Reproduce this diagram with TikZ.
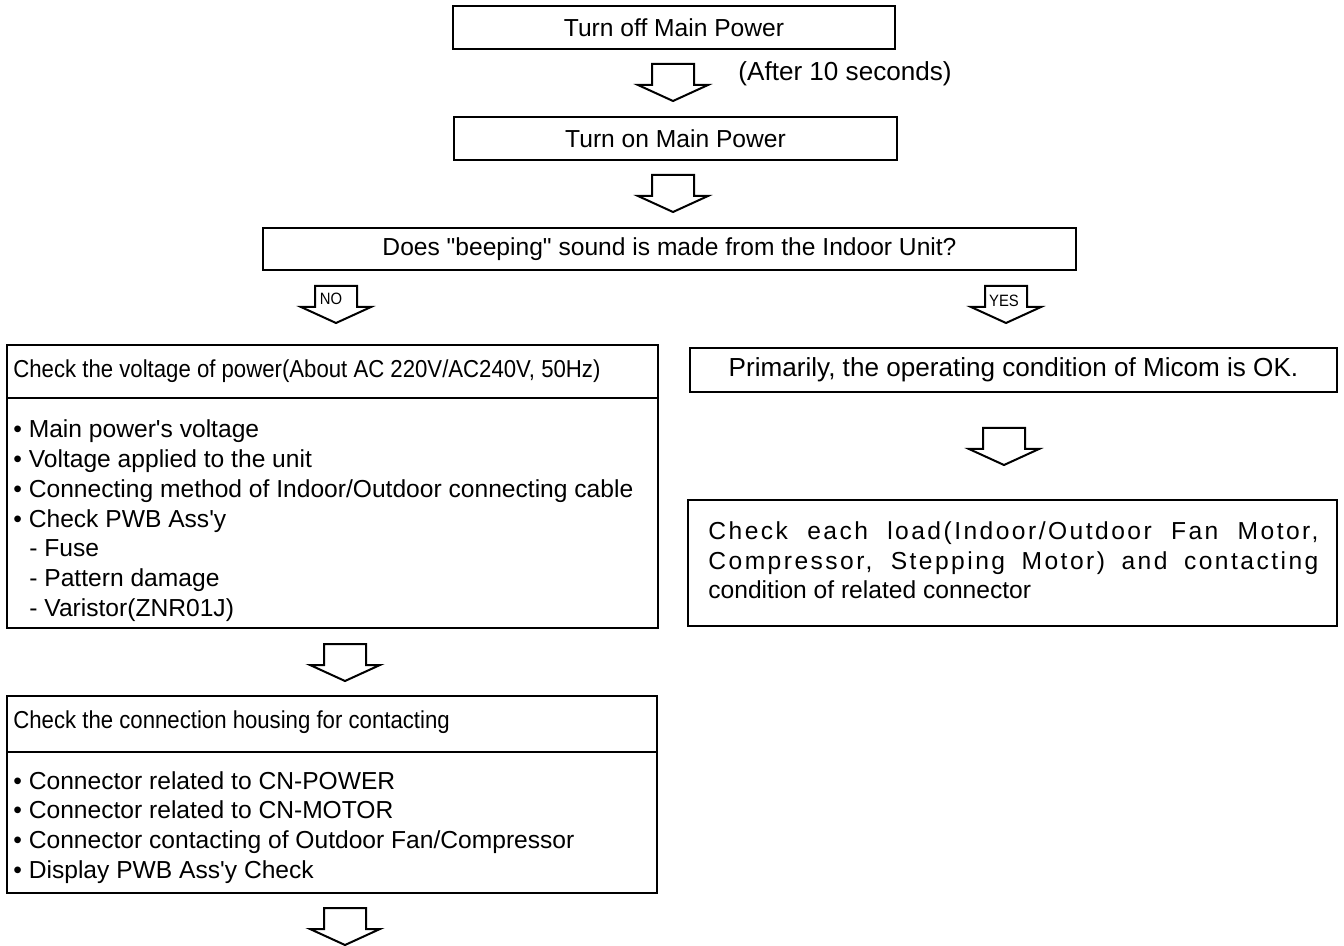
\documentclass[tikz,border=0pt]{standalone}
\usepackage{fontspec}
\setmainfont{Liberation Sans}
\newfontfamily\narrowfont[FakeStretch=0.905]{Liberation Sans}

\tikzset{
  box/.style={draw, line width=0.7pt, inner sep=0pt},
  txt/.style={inner sep=0pt, font=\fontsize{12.3}{14.85}\selectfont},
  bigtxt/.style={inner sep=0pt, font=\fontsize{13.05}{15.5}\selectfont},
  hdtxt/.style={inner sep=0pt, font=\narrowfont\fontsize{12.25}{14.85}\selectfont},
  flaglabel/.style={inner sep=0pt, font=\narrowfont\fontsize{8.2}{9}\selectfont},
  pics/blockarrow/.style={code={
    \draw[line width=1pt, line join=miter] (-21,0) -- (21,0) -- (21,21) -- (35,21)
      -- (0,37) -- (-35,21) -- (-21,21) -- cycle;
  }}
}

\begin{document}
\begin{tikzpicture}[x=0.5pt, y=-0.5pt]
  \useasboundingbox (0,0) rectangle (1344,946);

  % main column
  \node[box, txt, minimum width=221pt, minimum height=21.5pt] (off) at (674,27.5) {Turn off Main Power};
  \pic at (673,64) {blockarrow};
  \node[bigtxt, anchor=west] (wait) at (738,74) {(After 10 seconds)};
  \node[box, txt, minimum width=221.5pt, minimum height=21.5pt] (on) at (675.5,138.5) {Turn on Main Power};
  \pic at (673,175) {blockarrow};
  \node[box, txt, minimum width=406.5pt, minimum height=21pt] (beep) at (669.5,249)
    {Does \textquotedbl beeping\textquotedbl{} sound is made from the Indoor Unit?};

  % NO branch
  \pic at (336,286) {blockarrow};
  \node[flaglabel] (no) at (331,299) {NO};

  \node[box, minimum width=325.5pt, minimum height=26.5pt] (volthead) at (332.5,371.5) {};
  \node[box, minimum width=325.5pt, minimum height=115pt] (voltbody) at (332.5,513) {};
  \node[hdtxt, anchor=west] (volttitle) at (13,371) {Check the voltage of power(About AC 220V/AC240V, 50Hz)};
  \foreach \t [count=\i] in {Main power\textquotesingle s voltage, Voltage applied to the unit,
      Connecting method of Indoor/Outdoor connecting cable, Check PWB Ass\textquotesingle y}
    \node[txt, anchor=base west] (volt-\i) at (13,{438+29.7*(\i-1)}) {\textbullet\ \t};
  \foreach \t [count=\i] in {Fuse, Pattern damage, Varistor(ZNR01J)}
    \node[txt, anchor=base west] (pwb-\i) at (29,{556.8+29.7*(\i-1)}) {- \t};

  \pic at (345,644) {blockarrow};

  \node[box, minimum width=325pt, minimum height=28pt] (househead) at (332,724) {};
  \node[box, minimum width=325pt, minimum height=70.5pt] (housebody) at (332,822.5) {};
  \node[hdtxt, anchor=west] (housetitle) at (13,722) {Check the connection housing for contacting};
  \foreach \t [count=\i] in {Connector related to CN-POWER, Connector related to CN-MOTOR,
      Connector contacting of Outdoor Fan/Compressor, Display PWB Ass\textquotesingle y Check}
    \node[txt, anchor=base west] (house-\i) at (13,{789+29.7*(\i-1)}) {\textbullet\ \t};

  \pic at (345,908) {blockarrow};

  % YES branch
  \pic at (1006,286) {blockarrow};
  \node[flaglabel] (yes) at (1004,301) {YES};

  \node[box, bigtxt, minimum width=323.5pt, minimum height=22pt] (micom) at (1013.5,370)
    {Primarily, the operating condition of Micom is OK.};
  \pic at (1004,428) {blockarrow};
  \node[box, minimum width=324.5pt, minimum height=63pt] (loadbox) at (1012.5,563) {};
  \node[txt, anchor=base west] (load-1) at (708,539)
    {\makebox[305pt][s]{\addfontfeature{LetterSpace=10}Check each load(Indoor/Outdoor Fan Motor,}};
  \node[txt, anchor=base west] (load-2) at (708,569)
    {\makebox[305pt][s]{\addfontfeature{LetterSpace=10}Compressor, Stepping Motor) and contacting}};
  \node[txt, anchor=base west] (load-3) at (708,598) {condition of related connector};
\end{tikzpicture}
\end{document}
